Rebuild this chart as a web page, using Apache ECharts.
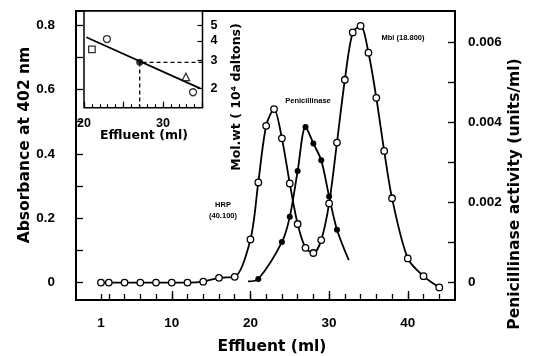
<!DOCTYPE html>
<html>
<head>
<meta charset="utf-8">
<script src="https://cdn.jsdelivr.net/npm/echarts@6/dist/echarts.min.js"></script>
<style>
  html, body { margin: 0; padding: 0; background: #fff; }
  #chart { width: 533px; height: 356px; }
</style>
</head>
<body>
<div id="chart"></div>
<script>
// main plot: absorbance (open circles), ml effluent
var absX = [1, 2, 4, 6, 8, 10, 12, 14, 16, 18, 20, 21, 22, 23, 24, 25, 26, 27, 28, 29, 30, 31, 32, 33, 34, 35, 36, 37, 38, 40, 42, 44]
var absY = [0, 0, 0, 0, 0, 0, 0, 0.003, 0.015, 0.018, 0.134, 0.311, 0.487, 0.539, 0.448, 0.308, 0.182, 0.108, 0.092, 0.132, 0.246, 0.435, 0.63, 0.777, 0.797, 0.714, 0.574, 0.409, 0.262, 0.075, 0.02, -0.015]

// penicillinase activity (filled circles), first and last are curve ends without marker
var penX = [19.7, 21, 24, 25, 26, 27, 28, 29, 30, 31, 32.5]
var penY = [0.00003, 0.00009, 0.00101, 0.00164, 0.00278, 0.00388, 0.00347, 0.00305, 0.00215, 0.00132, 0.00056]

// axis ticks and labels
var xTicks = [1, 2, 4, 6, 8, 10, 12, 14, 16, 18, 20, 22, 24, 26, 28, 30, 32, 34, 36, 38, 40, 42, 44]
var xLabels = [1, 10, 20, 30, 40]
var xMajor = [10, 20, 30, 40]
var leftTicks = [0, 0.1, 0.2, 0.3, 0.4, 0.5, 0.6, 0.7, 0.8]
var leftLabels = [0, 0.2, 0.4, 0.6, 0.8]
var rightTicks = [0, 0.001, 0.002, 0.003, 0.004, 0.005, 0.006]
var rightLabels = [0, 0.002, 0.004, 0.006]

// inset: mol. wt calibration (10^4 daltons, log scale)
var fitX = [20.3, 34.7]
var fitY = [4.21, 2.01]
var openStdX = [22.9, 33.8]
var openStdY = [4.10, 1.90]
var squareStdX = [21.0]
var squareStdY = [3.53]
var triStdX = [32.9]
var triStdY = [2.37]
var penStdX = [27.05]
var penStdY = [2.93]
var insetXTicks = [20, 21, 22, 23, 24, 25, 26, 27, 28, 29, 30, 31, 32, 33, 34, 35]
var insetXMajor = [20, 25, 30, 35]
var insetXLabels = [20, 30]
var insetYTicks = [2, 3, 4, 5]

var INSET_X_MAX = 35
var INSET_Y_MIN = 1.52

var TICK_FONT = 'Liberation Sans'

function pairs(xs, ys) {
  return xs.map(function (x, i) { return [x, ys[i]] })
}

function title(text, x, y, size, rotated, family) {
  return {
    type: 'text', x: x, y: y, rotation: rotated ? Math.PI / 2 : 0,
    style: {
      text: text, font: 'bold ' + size + 'px "' + (family || 'DejaVu Sans') + '"', fill: '#000',
      textAlign: 'center', align: 'center', textVerticalAlign: 'middle', verticalAlign: 'middle'
    }
  }
}

function tick(values, length, width) {
  return { show: true, inside: true, length: length, lineStyle: { color: '#000', width: width }, customValues: values }
}

function labels(values, margin, size, formatter) {
  var l = { show: true, margin: margin, customValues: values, color: '#000', fontFamily: TICK_FONT, fontWeight: 'bold', fontSize: size }
  if (formatter) l.formatter = formatter
  return l
}

function hidden() {
  return { show: false, onZero: false }
}

var chart = echarts.init(document.getElementById('chart'), null, { renderer: 'canvas' })

var option = {
  animation: false,
  backgroundColor: '#fff',
  grid: [
    { left: 76, right: 78, top: 11, bottom: 56, show: true, borderColor: '#000', borderWidth: 2 },
    { left: 84, top: 11, width: 118.5, height: 96.7, show: true, borderColor: '#000', borderWidth: 1.5, backgroundColor: '#fff' }
  ],
  xAxis: [
    {
      type: 'value', gridIndex: 0, position: 'bottom', min: -2.17, max: 46.0,
      axisLine: hidden(), splitLine: { show: false },
      axisTick: tick(xTicks, 6, 1.3),
      axisLabel: labels(xLabels, 16, 13.5)
    },
    {
      type: 'value', gridIndex: 0, position: 'bottom', min: -2.17, max: 46.0,
      axisLine: hidden(), splitLine: { show: false },
      axisTick: tick(xMajor, 9, 1.3),
      axisLabel: { show: false }
    },
    {
      type: 'value', gridIndex: 1, position: 'bottom', min: 20, max: INSET_X_MAX,
      axisLine: hidden(), splitLine: { show: false },
      axisTick: tick(insetXTicks, 3.5, 1.2),
      axisLabel: labels(insetXLabels, 9, 12.5)
    },
    {
      type: 'value', gridIndex: 1, position: 'bottom', min: 20, max: INSET_X_MAX,
      axisLine: hidden(), splitLine: { show: false },
      axisTick: tick(insetXMajor, 6, 1.2),
      axisLabel: { show: false }
    }
  ],
  yAxis: [
    {
      type: 'value', gridIndex: 0, position: 'left', min: -0.054, max: 0.8435,
      axisLine: hidden(), splitLine: { show: false },
      axisTick: tick(leftTicks, 7, 1.3),
      axisLabel: labels(leftLabels, 21, 13.5, function (v) { return v === 0 ? '0' : v.toFixed(1) })
    },
    {
      type: 'value', gridIndex: 0, position: 'right', min: -0.000434, max: 0.006773,
      axisLine: hidden(), splitLine: { show: false },
      axisTick: tick(rightTicks, 7, 1.3),
      axisLabel: labels(rightLabels, 13, 13.5, function (v) { return v === 0 ? '0' : v.toFixed(3) })
    },
    {
      type: 'log', logBase: 10, gridIndex: 1, position: 'right', min: INSET_Y_MIN, max: 6.15,
      axisLine: hidden(), splitLine: { show: false },
      axisTick: tick(insetYTicks, 5, 1.2),
      axisLabel: labels(insetYTicks, 8, 12.5)
    }
  ],
  graphic: [
    title('Absorbance at 402 nm', 25, 145, 15.5, true),
    title('Penicillinase activity (units/ml)', 515, 194, 15.5, true),
    title('Effluent (ml)', 272, 347, 15.5, false),
    title('Effluent (ml)', 144, 136, 12.5, false),
    title('Mol.wt ( 10\u2074 daltons)', 237, 97, 12.5, true),
    title('HRP', 223, 205, 7.5, false, 'Liberation Sans'),
    title('(40.100)', 223, 216, 7.5, false, 'Liberation Sans'),
    title('Penicillinase', 308, 101, 7.5, false, 'Liberation Sans'),
    title('Mbl (18.800)', 403, 37.5, 7.5, false, 'Liberation Sans')
  ],
  series: [
    {
      name: 'Penicillinase', type: 'line', xAxisIndex: 0, yAxisIndex: 1, z: 3,
      smooth: 0.3,
      data: pairs(penX, penY).map(function (p, i) {
        if (i === 0 || i === penX.length - 1) return { value: p, symbol: 'none' }
        return p
      }),
      symbol: 'circle', symbolSize: 6,
      itemStyle: { color: '#000' },
      lineStyle: { color: '#000', width: 1.8 }
    },
    {
      name: 'Absorbance', type: 'line', xAxisIndex: 0, yAxisIndex: 0, z: 4,
      smooth: 0.3,
      data: pairs(absX, absY),
      symbol: 'circle', symbolSize: 6.5,
      itemStyle: { color: '#fff', borderColor: '#000', borderWidth: 1.3 },
      lineStyle: { color: '#000', width: 1.8 }
    },
    {
      name: 'fit', type: 'line', xAxisIndex: 2, yAxisIndex: 2, z: 3,
      data: pairs(fitX, fitY), symbol: 'none',
      lineStyle: { color: '#000', width: 1.8 }
    },
    {
      name: 'guide', type: 'line', xAxisIndex: 2, yAxisIndex: 2, z: 3,
      data: [[INSET_X_MAX, penStdY[0]], [penStdX[0], penStdY[0]], [penStdX[0], INSET_Y_MIN]],
      symbol: 'none',
      lineStyle: { color: '#000', width: 1.3, type: [4, 3] }
    },
    {
      name: 'open', type: 'scatter', xAxisIndex: 2, yAxisIndex: 2, z: 4,
      data: pairs(openStdX, openStdY), symbol: 'circle', symbolSize: 7,
      itemStyle: { color: '#fff', borderColor: '#000', borderWidth: 1.3 }
    },
    {
      name: 'square', type: 'scatter', xAxisIndex: 2, yAxisIndex: 2, z: 4,
      data: pairs(squareStdX, squareStdY), symbol: 'rect', symbolSize: 6.5,
      itemStyle: { color: '#fff', borderColor: '#000', borderWidth: 1.3 }
    },
    {
      name: 'triangle', type: 'scatter', xAxisIndex: 2, yAxisIndex: 2, z: 4,
      data: pairs(triStdX, triStdY), symbol: 'triangle', symbolSize: 7.5,
      itemStyle: { color: '#fff', borderColor: '#000', borderWidth: 1.3 }
    },
    {
      name: 'pen', type: 'scatter', xAxisIndex: 2, yAxisIndex: 2, z: 4,
      data: pairs(penStdX, penStdY), symbol: 'circle', symbolSize: 7,
      itemStyle: { color: '#000' }
    }
  ]
}

chart.setOption(option)
</script>
</body>
</html>
